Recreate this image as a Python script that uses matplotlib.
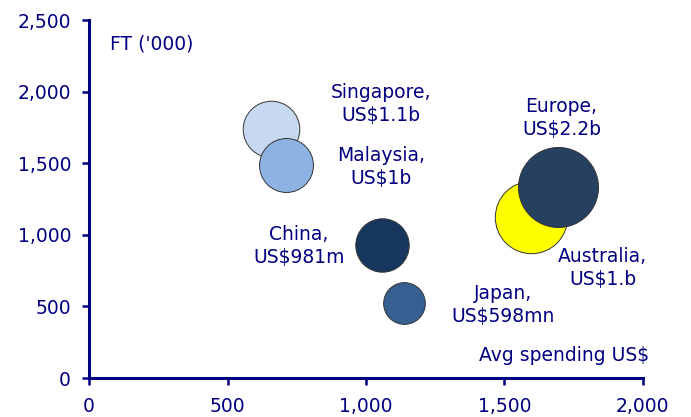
import matplotlib.pyplot as plt

# data
markets = ['Singapore', 'Malaysia', 'China', 'Japan', 'Australia', 'Europe']
avg_spend = [657, 711, 1058, 1137, 1596, 1693]      # x, US$
ft_000 = [1739, 1487, 928, 524, 1124, 1333]          # y, thousands
spend_bn = [1.1, 1.0, 0.981, 0.598, 1.8, 2.2]        # bubble size
labels = ['Singapore,\nUS$1.1b', 'Malaysia,\nUS$1b', 'China,\nUS$981m',
          'Japan,\nUS$598mn', 'Australia,\nUS$1.b', 'Europe,\nUS$2.2b']
colors = ['#C6D9F0', '#8DB3E2', '#17375E', '#366092', '#FFFF00', '#254061']
label_xy = [(1054, 1913), (1054, 1473), (758, 921),
            (1494, 509), (1856, 768), (1707, 1815)]

navy = '#000080'
plt.rcParams['font.family'] = ['DejaVu Sans']
fs = 13.5

fig = plt.figure(figsize=(6.91, 4.17), dpi=100)
ax = fig.add_axes([0.129, 0.0935, 0.801, 0.8585])

scale = 1508
for i in range(len(markets)):
    ax.scatter(avg_spend[i], ft_000[i], s=spend_bn[i] * scale, color=colors[i],
               edgecolor='#333333', linewidth=0.7, zorder=3)
    ax.text(label_xy[i][0], label_xy[i][1], labels[i], ha='center', va='center',
            color=navy, fontsize=fs, linespacing=1.25)

ax.text(76, 2331, "FT ('000)", color=navy, fontsize=fs, va='center', ha='left')
ax.text(2025, 154, 'Avg spending US$', color=navy, fontsize=fs, va='center',
        ha='right', clip_on=False)

ax.set_xlim(0, 2000)
ax.set_ylim(0, 2500)
ax.set_xticks([0, 500, 1000, 1500, 2000])
ax.set_yticks([0, 500, 1000, 1500, 2000, 2500])
ax.set_xticklabels(['0', '500', '1,000', '1,500', '2,000'])
ax.set_yticklabels(['0', '500', '1,000', '1,500', '2,000', '2,500'])
ax.spines['top'].set_visible(False)
ax.spines['right'].set_visible(False)
for s in ['left', 'bottom']:
    ax.spines[s].set_color(navy)
    ax.spines[s].set_linewidth(2.2)
ax.tick_params(colors=navy, labelcolor=navy, labelsize=fs, width=1.8,
               length=5, direction='out')
ax.tick_params(axis='x', pad=9)
ax.tick_params(axis='y', pad=8)

fig.savefig('out.png', dpi=100)
